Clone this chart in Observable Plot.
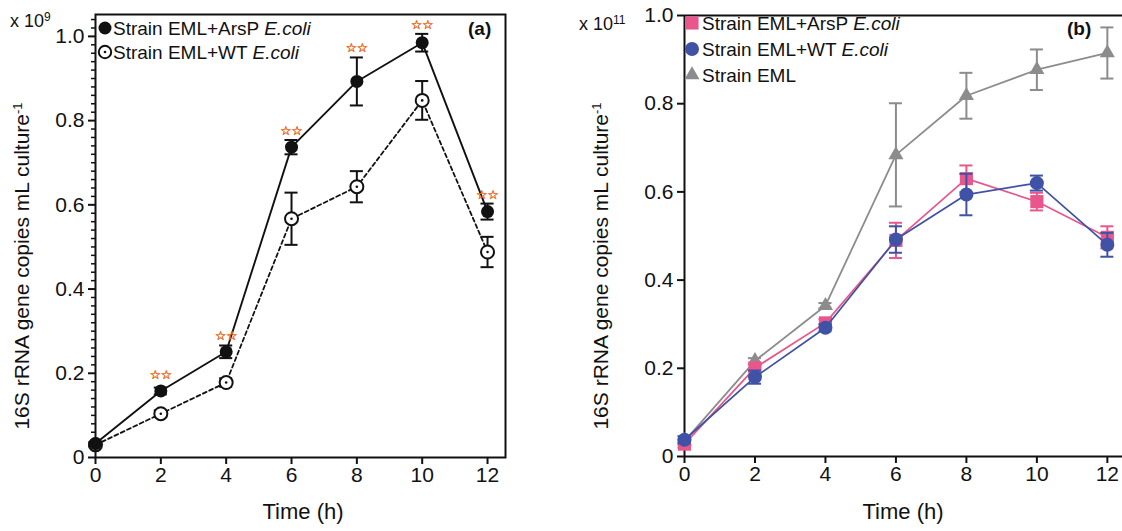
<!DOCTYPE html>
<html><head><meta charset="utf-8">
<script src="https://cdn.jsdelivr.net/npm/d3@7"></script>
<script src="https://cdn.jsdelivr.net/npm/@observablehq/plot@0.6"></script>
<style>
body{margin:0;background:#fff;}
#wrap{position:relative;width:1122px;height:531px;overflow:hidden;background:#fff;}
#a,#b{position:absolute;top:0;}
#a{left:0px;} #b{left:560px;}
</style></head><body><div id="wrap"><div id="a"></div><div id="b"></div></div>
<script>
// ---------- data ----------
const time = [0, 2, 4, 6, 8, 10, 12];
const xTicks = [0, 2, 4, 6, 8, 10, 12];
const yTicks = [0, 0.2, 0.4, 0.6, 0.8, 1.0];
// panel (a), x 10^9
const aArsP    = [0.033, 0.158, 0.251, 0.737, 0.893, 0.985, 0.584];
const aArsPErr = [0.004, 0.008, 0.015, 0.017, 0.057, 0.021, 0.019];
const aWT      = [0.030, 0.104, 0.178, 0.567, 0.643, 0.848, 0.488];
const aWTErr   = [0.004, 0.008, 0.010, 0.062, 0.037, 0.046, 0.036];
const aSig     = ["", "☆☆", "☆☆", "☆☆", "☆☆", "☆☆", "☆☆"];
// panel (b), x 10^11
const bArsP    = [0.028, 0.201, 0.303, 0.490, 0.630, 0.578, 0.497];
const bArsPErr = [0.008, 0.008, 0.008, 0.040, 0.030, 0.020, 0.025];
const bWT      = [0.038, 0.180, 0.292, 0.492, 0.594, 0.620, 0.480];
const bWTErr   = [0.008, 0.015, 0.008, 0.030, 0.047, 0.017, 0.027];
const bEML     = [0.035, 0.217, 0.342, 0.684, 0.818, 0.877, 0.915];
const bEMLErr  = [0.004, 0.006, 0.006, 0.117, 0.052, 0.046, 0.058];

const seriesA = ["Strain EML+ArsP ", "Strain EML+WT "];
const seriesB = ["Strain EML+ArsP ", "Strain EML+WT ", "Strain EML"];

// ---------- style ----------
const font = "Liberation Sans, Arial, Helvetica, sans-serif";
const ink = "#111";
const pink = "#e8568b", blue = "#3f52a6", gray = "#8c8c8c", star = "#ee6a1c";
const fmt = d => d === 0 ? "0" : d3.format(".1f")(d);
const yMinorA = d3.range(1, 53).map(i => +(i * 0.02).toFixed(2)).filter(v => Math.round(v * 100) % 20 !== 0);

function errMarks(data, key, ekey, color, cap) {
  return [
    Plot.ruleX(data, {x: "t", y1: d => d[key] - d[ekey], y2: d => d[key] + d[ekey], stroke: color, strokeWidth: 2}),
    Plot.ruleY(data, {y: d => d[key] - d[ekey], x1: d => d.t - cap, x2: d => d.t + cap, stroke: color, strokeWidth: 2}),
    Plot.ruleY(data, {y: d => d[key] + d[ekey], x1: d => d.t - cap, x2: d => d.t + cap, stroke: color, strokeWidth: 2})
  ];
}

// ---------- panel (a) ----------
const dataA = time.map((t, i) => ({t, arsp: aArsP[i], arspE: aArsPErr[i], wt: aWT[i], wtE: aWTErr[i], sig: aSig[i]}));
const plotA = Plot.plot({
  width: 560, height: 531, marginLeft: 95, marginRight: 55, marginTop: 14, marginBottom: 74,
  x: {domain: [0, 12.55]},
  y: {domain: [0, 1.052]},
  style: {fontFamily: font, background: "#fff", color: ink, overflow: "visible"},
  marks: [
    Plot.axisY({ticks: yMinorA, tickSize: 4, tickFormat: () => "", strokeWidth: 1.5, label: null}),
    Plot.axisY({ticks: yTicks, tickSize: 7, tickPadding: 4, tickFormat: fmt, fontSize: 21, strokeWidth: 2, label: null}),
    Plot.axisX({ticks: xTicks, tickSize: 7, tickPadding: 3, fontSize: 21, strokeWidth: 2, label: null}),
    Plot.line(dataA, {x: "t", y: "wt", stroke: ink, strokeWidth: 1.8, strokeDasharray: "4,3"}),
    ...errMarks(dataA, "wt", "wtE", ink, 0.2),
    Plot.dot(dataA, {x: "t", y: "wt", r: 6.5, fill: "#fff", stroke: ink, strokeWidth: 2}),
    Plot.dot(dataA, {x: "t", y: "wt", r: 1.3, fill: ink}),
    Plot.line(dataA, {x: "t", y: "arsp", stroke: ink, strokeWidth: 1.9}),
    ...errMarks(dataA, "arsp", "arspE", ink, 0.2),
    Plot.dot(dataA, {x: "t", y: "arsp", r: 6.5, fill: ink}),
    Plot.text(dataA.filter(d => d.sig), {x: "t", y: d => d.arsp + Math.max(d.arspE, 0.016), text: "sig", dy: -9, fill: star, stroke: star, strokeWidth: 0.5, fontSize: 12.5, fontFamily: "DejaVu Sans"}),
    Plot.frame({stroke: ink, strokeWidth: 2})
  ]
});
document.getElementById("a").appendChild(plotA);

// ---------- panel (b) ----------
const dataB = time.map((t, i) => ({t, arsp: bArsP[i], arspE: bArsPErr[i], wt: bWT[i], wtE: bWTErr[i], eml: bEML[i], emlE: bEMLErr[i]}));
const plotB = Plot.plot({
  width: 562, height: 531, marginLeft: 124, marginRight: 0, marginTop: 15, marginBottom: 75,
  x: {domain: [0, 12.43]},
  y: {domain: [0, 1.0]},
  style: {fontFamily: font, background: "#fff", color: ink, overflow: "visible"},
  marks: [
    Plot.axisY({ticks: yTicks, tickSize: 7, tickPadding: 4, tickFormat: fmt, fontSize: 21, strokeWidth: 2, label: null}),
    Plot.axisX({ticks: xTicks, tickSize: 7, tickPadding: 3, fontSize: 21, strokeWidth: 2, label: null}),
    Plot.ruleY([0, 1], {stroke: ink, strokeWidth: 2}),
    Plot.ruleX([0], {stroke: ink, strokeWidth: 2}),
    Plot.line(dataB, {x: "t", y: "eml", stroke: gray, strokeWidth: 1.8}),
    ...errMarks(dataB, "eml", "emlE", gray, 0.185),
    Plot.dot(dataB, {x: "t", y: "eml", symbol: "triangle", r: 5.6, fill: gray}),
    Plot.line(dataB, {x: "t", y: "arsp", stroke: pink, strokeWidth: 1.7}),
    ...errMarks(dataB, "arsp", "arspE", pink, 0.185),
    Plot.dot(dataB, {x: "t", y: "arsp", symbol: "square", r: 7.4, fill: pink}),
    Plot.line(dataB, {x: "t", y: "wt", stroke: blue, strokeWidth: 1.7}),
    ...errMarks(dataB, "wt", "wtE", blue, 0.185),
    Plot.dot(dataB, {x: "t", y: "wt", r: 7, fill: blue})
  ]
});
document.getElementById("b").appendChild(plotB);

// ---------- labels and legends ----------
function yLabel(svg, x, y) {
  const t = svg.append("text").attr("transform", `translate(${x},${y}) rotate(-90)`)
    .attr("text-anchor", "middle").attr("dy", "0.35em")
    .style("font-family", font).style("font-size", "21px").attr("fill", ink);
  t.append("tspan").text("16S rRNA gene copies mL culture");
  t.append("tspan").attr("dy", "-0.6em").style("font-size", "13px").text("-1");
}
function xLabel(svg, x, y) {
  svg.append("text").attr("x", x).attr("y", y).attr("text-anchor", "middle")
    .style("font-family", font).style("font-size", "22px").attr("fill", ink).text("Time (h)");
}
function power(svg, x, y, exp) {
  const t = svg.append("text").attr("x", x).attr("y", y).attr("text-anchor", "start")
    .style("font-family", font).style("font-size", "18px").attr("fill", ink);
  t.append("tspan").text("x 10");
  t.append("tspan").attr("dy", "-0.5em").style("font-size", "12px").text(exp);
}
function panelTag(svg, x, y, s) {
  svg.append("text").attr("x", x).attr("y", y).attr("dy", "0.35em").attr("text-anchor", "start")
    .style("font-family", font).style("font-size", "19px").style("font-weight", "bold").attr("fill", ink).text(s);
}
function legendText(svg, x, y, s, ital) {
  const t = svg.append("text").attr("x", x).attr("y", y).attr("dy", "0.36em").attr("text-anchor", "start")
    .style("font-family", font).style("font-size", "19px").attr("fill", ink);
  t.append("tspan").text(s);
  if (ital) t.append("tspan").style("font-style", "italic").text("E.coli");
}

const sA = d3.select(plotA);
yLabel(sA, 22, 266);
xLabel(sA, 303, 519);
power(sA, 10, 27, "9");
panelTag(sA, 468, 28, "(a)");
sA.append("circle").attr("cx", 105).attr("cy", 28).attr("r", 6.5).attr("fill", ink);
legendText(sA, 113, 28, seriesA[0], true);
sA.append("circle").attr("cx", 105).attr("cy", 52).attr("r", 6.2).attr("fill", "#fff").attr("stroke", ink).attr("stroke-width", 2);
sA.append("circle").attr("cx", 105).attr("cy", 52).attr("r", 1.3).attr("fill", ink);
legendText(sA, 113, 52, seriesA[1], true);

const sB = d3.select(plotB);
yLabel(sB, 41, 266);
xLabel(sB, 343, 519);
power(sB, 19, 30, "11");
panelTag(sB, 507, 28, "(b)");
sB.append("path").attr("transform", "translate(132,23)").attr("d", d3.symbol(d3.symbolSquare, 7.4 * 7.4 * Math.PI)()).attr("fill", pink);
legendText(sB, 142, 23, seriesB[0], true);
sB.append("circle").attr("cx", 132).attr("cy", 49).attr("r", 7).attr("fill", blue);
legendText(sB, 142, 49, seriesB[1], true);
sB.append("path").attr("transform", "translate(132,75)").attr("d", d3.symbol(d3.symbolTriangle, 5.6 * 5.6 * Math.PI)()).attr("fill", gray);
legendText(sB, 142, 75, seriesB[2], false);
</script></body></html>
